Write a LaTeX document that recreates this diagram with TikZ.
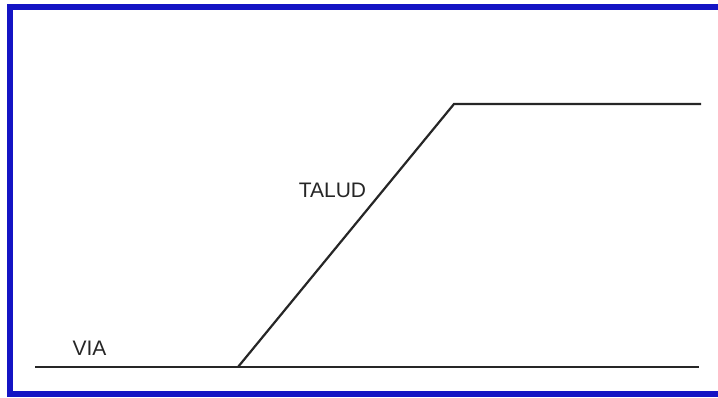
\documentclass[tikz,border=0pt]{standalone}
\usepackage{fontspec}
\setmainfont{Liberation Sans}
\usepackage{tikz}
\definecolor{frameblue}{HTML}{1414C4}
\definecolor{groundgray}{HTML}{262626}

\begin{document}
\begin{tikzpicture}[x=1pt,y=-1pt,font=\fontsize{21}{24}\selectfont,
    ground/.style={groundgray,line width=2.2pt},
    lbl/.style={inner sep=0pt,text=groundgray}]
  \useasboundingbox (0,0) rectangle (718,397);
  \clip (0,0) rectangle (718,397);
  \fill[white] (0,0) rectangle (718,397);
  \draw[frameblue,line width=6pt] (10,7) rectangle (726,394);
  % profile
  \coordinate (viaA) at (35,367);
  \coordinate (toe) at (238,367);
  \coordinate (viaB) at (699,367);
  \coordinate (crest) at (454,104);
  \coordinate (topB) at (701,104);
  \draw[ground] (viaA)--(viaB);
  \draw[ground] (toe)--(crest)--(topB);
  \node[lbl] (via) at (89.5,348) {VIA};
  \node[lbl] (talud) at (332.5,190.5) {TALUD};
\end{tikzpicture}
\end{document}
